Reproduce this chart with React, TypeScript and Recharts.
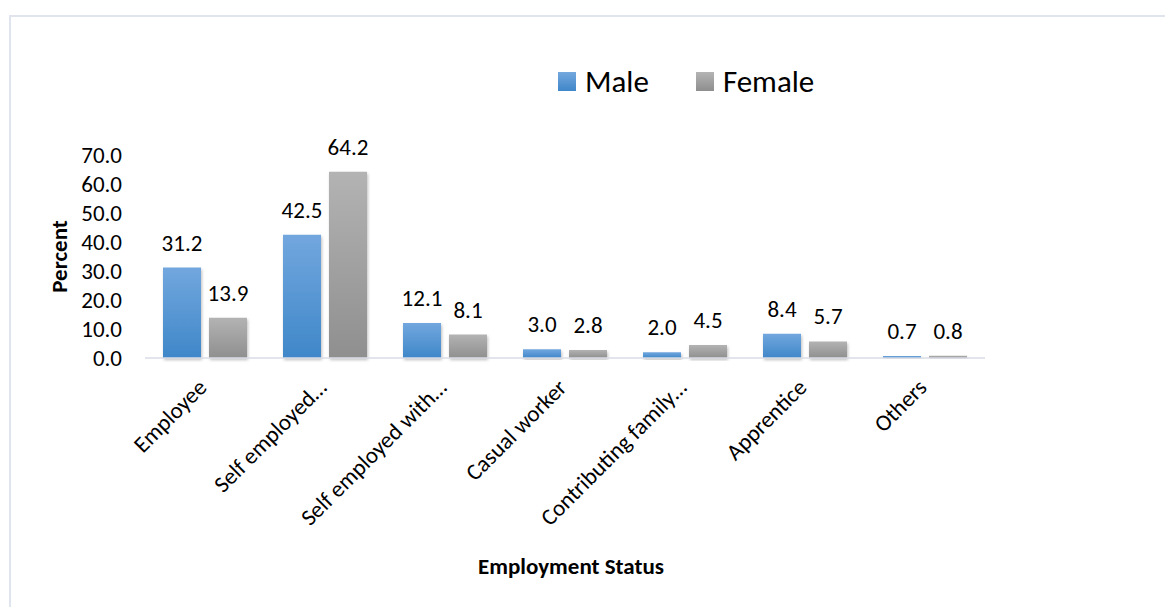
import { BarChart, Bar, XAxis, YAxis, Legend, LabelList, Label } from "recharts";

const categories = [
  "Employee",
  "Self employed…",
  "Self employed with…",
  "Casual worker",
  "Contributing family…",
  "Apprentice",
  "Others",
];
const maleValues = [31.2, 42.5, 12.1, 3.0, 2.0, 8.4, 0.7];
const femaleValues = [13.9, 64.2, 8.1, 2.8, 4.5, 5.7, 0.8];
const yTicks = [0, 10, 20, 30, 40, 50, 60, 70];
const seriesOrder = ["male", "female"];

const data = categories.map((category, i) => ({
  category,
  male: maleValues[i],
  female: femaleValues[i],
}));

const FONT = "Carlito, Lato, 'Open Sans', sans-serif";
const TXT = 23;

function CategoryTick({ x, y, payload }: any) {
  return (
    <g transform={`translate(${x + 3},${y + 29})`}>
      <text transform="rotate(-45)" textAnchor="end" fontSize={TXT} fill="#000" fontFamily={FONT}>
        {payload.value}
      </text>
    </g>
  );
}

const yTitle = ({ viewBox }: any) => {
  const cx = viewBox.x + 59;
  const cy = viewBox.y + viewBox.height / 2;
  return (
    <text
      x={cx}
      y={cy}
      transform={`rotate(-90, ${cx}, ${cy})`}
      textAnchor="middle"
      dominantBaseline="central"
      fontSize={TXT}
      fontWeight="bold"
      fill="#000"
      fontFamily={FONT}
    >
      Percent
    </text>
  );
};

const xTitle = ({ viewBox }: any) => (
  <text
    x={viewBox.x + viewBox.width / 2 + 6}
    y={viewBox.y + 208}
    textAnchor="middle"
    dominantBaseline="central"
    fontSize={TXT}
    fontWeight="bold"
    fill="#000"
    fontFamily={FONT}
  >
    Employment Status
  </text>
);

const renderLegend = ({ payload }: any) => {
  const items = [...(payload || [])].sort(
    (a: any, b: any) => seriesOrder.indexOf(a.dataKey) - seriesOrder.indexOf(b.dataKey)
  );
  return (
    <div style={{ display: "flex", fontFamily: FONT, fontSize: 31, color: "#000", lineHeight: "31px" }}>
      {items.map((p: any, i: number) => (
        <div key={p.value} style={{ display: "flex", alignItems: "center", marginRight: i === 0 ? 47 : 0 }}>
          <span
            style={{
              display: "inline-block",
              width: 18,
              height: 19,
              marginRight: 9,
              background:
                p.dataKey === "male"
                  ? "linear-gradient(#74a8de, #3f86c9)"
                  : "linear-gradient(#b4b4b4, #8e8e8e)",
            }}
          />
          <span>{p.value}</span>
        </div>
      ))}
    </div>
  );
};

export default function App() {
  return (
    <div style={{ position: "absolute", left: 0, top: 0, width: 1165, height: 607, overflow: "hidden", background: "#fff" }}>
      <div
        style={{
          position: "absolute",
          left: 9,
          top: 15,
          width: 1200,
          height: 700,
          border: "2px solid #e0e4ec",
        }}
      />
      <div style={{ position: "absolute", left: 0, top: 0 }}>
        <BarChart
          width={1165}
          height={607}
          data={data}
          margin={{ top: 155, right: 180, left: 0, bottom: 0 }}
          barGap={8}
          barCategoryGap={18}
        >
          <defs>
            <linearGradient id="maleGrad" x1="0" y1="0" x2="0" y2="1">
              <stop offset="0%" stopColor="#72a7de" />
              <stop offset="100%" stopColor="#3f87c9" />
            </linearGradient>
            <linearGradient id="femaleGrad" x1="0" y1="0" x2="0" y2="1">
              <stop offset="0%" stopColor="#b3b3b3" />
              <stop offset="100%" stopColor="#8f8f8f" />
            </linearGradient>
            <filter id="barShadow" x="-20%" y="-20%" width="140%" height="140%">
              <feDropShadow dx="1" dy="2" stdDeviation="1.5" floodColor="#000" floodOpacity="0.25" />
            </filter>
          </defs>
          <XAxis
            dataKey="category"
            height={249}
            interval={0}
            tickLine={false}
            tickSize={0}
            tick={<CategoryTick />}
            axisLine={{ stroke: "#d9dde6", strokeWidth: 1.5 }}
          >
            <Label content={xTitle} />
          </XAxis>
          <YAxis
            width={145}
            domain={[0, 70]}
            ticks={yTicks}
            interval={0}
            axisLine={false}
            tickLine={false}
            tickSize={0}
            tickMargin={23}
            tickFormatter={(v: number) => v.toFixed(1)}
            tick={{ fontSize: TXT, fill: "#000", fontFamily: FONT }}
          >
            <Label content={yTitle} />
          </YAxis>
          <Legend
            layout="vertical"
            align="center"
            verticalAlign="middle"
            wrapperStyle={{ top: 66, left: 558, width: 320 }}
            content={renderLegend}
          />
          <Bar dataKey="male" name="Male" fill="url(#maleGrad)" filter="url(#barShadow)" isAnimationActive={false}>
            <LabelList
              dataKey="male"
              position="top"
              offset={17}
              formatter={(v: any) => Number(v).toFixed(1)}
              style={{ fontSize: TXT, fill: "#000", fontFamily: FONT }}
            />
          </Bar>
          <Bar dataKey="female" name="Female" fill="url(#femaleGrad)" filter="url(#barShadow)" isAnimationActive={false}>
            <LabelList
              dataKey="female"
              position="top"
              offset={17}
              formatter={(v: any) => Number(v).toFixed(1)}
              style={{ fontSize: TXT, fill: "#000", fontFamily: FONT }}
            />
          </Bar>
        </BarChart>
      </div>
    </div>
  );
}
